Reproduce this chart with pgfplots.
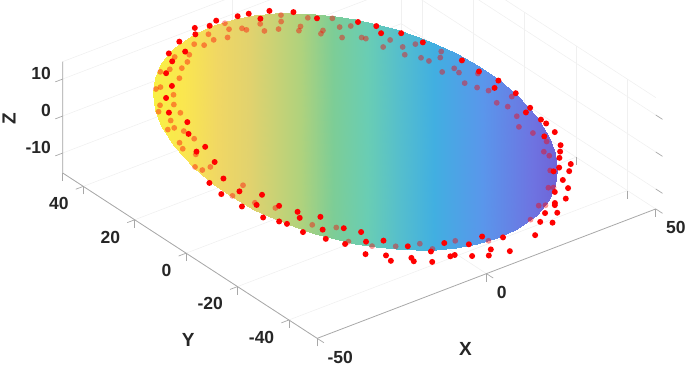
\documentclass[border=0pt]{standalone}
\usepackage{fontspec}
\setmainfont{Liberation Sans}
\usepackage{pgfplots}
\usepackage{pgfplotstable}
\pgfplotsset{compat=1.18}
\definecolor{axgray}{gray}{0.66}
\definecolor{gridgray}{gray}{0.94}
\definecolor{txt}{gray}{0.15}
\pgfplotstableread{
x y z m
-40 25.9 12.6 -1
-36.17 30.15 13.51 -.99
-31.6 33.82 14.17 -.96
-25.41 37.26 14.57 -.9
-17.42 39.92 14.52 -.8
-10.65 40.98 14.10 -.7
-4.56 41.14 13.48 -.6
1.04 40.66 12.71 -.5
6.28 39.7 11.83 -.4
11.18 38.3 10.84 -.3
15.81 36.54 9.77 -.2
20.18 34.43 8.62 -.1
24.3 32 7.4 0
28.18 29.25 6.10 .1
31.81 26.18 4.73 .2
35.18 22.76 3.28 .3
38.28 18.98 1.75 .4
41.04 14.76 0.11 .5
43.44 10.06 -1.64 .6
45.35 4.72 -3.54 .7
46.58 -1.52 -5.64 .8
46.59 -9.36 -8.11 .9
45.2 -15.9 -10.03 .96
43.03 -21.13 -11.43 .99
40 -25.9 -12.6 1

-40 25.9 12.6 -1
-43.03 21.13 11.43 -.99
-45.2 15.9 10.03 -.96
-46.59 9.36 8.11 -.9
-46.58 1.52 5.64 -.8
-45.35 -4.72 3.54 -.7
-43.44 -10.06 1.64 -.6
-41.04 -14.76 -0.11 -.5
-38.28 -18.98 -1.75 -.4
-35.18 -22.76 -3.28 -.3
-31.81 -26.18 -4.73 -.2
-28.18 -29.25 -6.10 -.1
-24.3 -32 -7.4 0
-20.18 -34.43 -8.62 .1
-15.81 -36.54 -9.77 .2
-11.18 -38.3 -10.84 .3
-6.28 -39.7 -11.83 .4
-1.04 -40.66 -12.71 .5
4.56 -41.14 -13.48 .6
10.65 -40.98 -14.10 .7
17.42 -39.92 -14.52 .8
25.41 -37.26 -14.57 .9
31.6 -33.82 -14.17 .96
36.17 -30.15 -13.51 .99
40 -25.9 -12.6 1
}\surfdata
\pgfplotstableread{
x y z
5.5 40.7 12.3
11.0 38.6 11.0
0.0 41.5 13.1
-3.2 41.6 13.5
1.7 39.2 12.2
-9.3 41.9 14.3
-12.0 40.9 14.3
-16.0 41.4 14.9
-17.2 39.6 14.4
15.3 35.1 9.4
-22.7 38.6 14.8
-23.4 35.4 13.8
-27.7 36.1 14.5
-28.6 33.6 13.8
-32.6 30.7 13.3
-34.0 26.6 12.2
-38.0 23.6 11.7
-40.5 19.2 10.6
-38.1 15.2 9.0
-40.4 11.7 8.2
-39.2 6.8 6.5
-42.3 6.1 6.6
-40.2 1.8 5.0
-41.7 -3.6 3.5
-46.0 -3.8 3.9
-45.6 -7.9 2.6
-40.7 -8.5 1.9
-36.0 -11.1 0.5
-39.5 -13.6 0.1
-43.3 -12.9 0.7
-34.3 -15.5 -1.1
-40.6 -17.6 -1.1
-37.7 -20.0 -2.1
-31.2 -18.6 -2.4
-32.0 -20.5 -2.9
-26.8 -21.7 -3.9
-36.3 -21.2 -2.7
-34.3 -24.8 -4.0
-29.1 -25.6 -4.8
-30.3 -28.4 -5.6
-23.7 -26.7 -5.8
-26.8 -31.3 -6.9
-20.4 -29.1 -6.9
-21.3 -32.2 -7.8
-24.1 -35.7 -8.6
-16.9 -33.2 -8.6
-19.5 -37.6 -9.7
-19.5 -39.5 -10.3
-12.3 -36.6 -10.2
-13.9 -40.1 -11.2
-14.1 -41.3 -11.5
-7.9 -39.8 -11.7
-9.8 -42.8 -12.5
-2.9 -38.4 -11.8
-4.3 -42.6 -13.0
-3.0 -42.6 -13.1
2.7 -40.6 -13.1
1.0 -44.1 -14.1
7.6 -39.3 -13.3
5.1 -45.2 -14.9
6.9 -43.6 -14.6
12.4 -41.1 -14.4
11.0 -45.6 -15.6
20.6 -42.8 -15.9
24.6 -39.5 -15.2
27.4 -40.6 -15.9
27.7 -37.3 -14.9
30.7 -38.1 -15.5
32.2 -35.2 -14.7
31.8 -35.7 -14.9
35.8 -34.7 -15.0
34.6 -32.0 -14.0
38.6 -31.9 -14.4
39.1 -29.2 -13.6
42.5 -27.2 -13.3
38.8 -26.0 -12.6
40.9 -25.4 -12.6
44.4 -25.3 -12.9
43.1 -22.6 -12.0
44.6 -20.9 -11.6
46.1 -19.1 -11.2
44.1 -15.4 -9.8
47.5 -15.0 -10.0
47.3 -11.9 -9.0
46.9 -10.4 -8.5
46.9 -6.2 -7.2
44.9 -7.2 -7.3
46.6 -1.0 -5.5
45.2 3.9 -3.8
42.7 2.1 -4.1
42.5 7.9 -2.2
40.8 12.3 -0.6
35.4 20.4 2.5
32.2 24.6 4.2
27.4 26.1 5.2
27.8 28.5 5.9
24.3 31.0 7.1
}\frontpts
\pgfplotstableread{
x y z
7.4 38.7 11.4
13.2 35.9 9.9
19.0 34.0 8.6
6.0 36.8 11.0
-7.8 40.5 13.7
0.5 37.7 11.9
9.6 34.0 9.7
-8.1 38.5 13.1
-4.8 37.8 12.5
-4.1 37.0 12.2
0.0 35.4 11.2
3.8 34.9 10.6
8.3 32.9 9.5
14.1 31.2 8.3
12.9 30.4 8.2
18.8 30.9 7.7
17.1 27.7 6.9
-14.1 38.6 13.8
-10.2 36.3 12.6
-14.0 36.7 13.1
-19.6 36.9 13.8
-17.5 35.8 13.3
-23.1 34.2 13.4
-27.1 34.6 14.0
-25.1 32.3 13.0
-30.9 31.5 13.4
-33.7 31.5 13.7
-27.8 30.9 12.9
-30.5 28.3 12.3
-37.0 27.1 12.7
-38.5 26.9 12.8
-35.5 24.0 11.5
-37.6 21.1 10.9
-41.0 22.0 11.5
-42.8 20.2 11.2
-37.8 18.3 10.0
-41.8 16.8 10.0
-42.5 14.5 9.3
-44.4 14.5 9.5
-40.9 12.9 8.6
-40.1 9.9 7.6
-44.5 9.8 8.1
-45.0 7.9 7.5
-43.1 5.3 6.5
-46.0 1.8 5.7
-42.3 0.7 4.9
-44.9 0.4 5.1
-38.5 -7.0 2.1
-43.3 -9.2 1.9
-39.4 -12.8 0.3
-35.7 -15.9 -1.0
-30.5 -23.4 -4.0
-25.3 -25.9 -5.4
-25.5 -30.9 -6.9
-20.8 -33.9 -8.4
-15.2 -35.7 -9.6
-8.9 -36.8 -10.6
-7.0 -39.2 -11.6
0.2 -38.6 -12.2
8.2 -41.0 -13.9
22.8 -38.1 -14.6
27.8 -34.7 -14.1
29.5 -35.1 -14.4
34.0 -30.3 -13.4
35.2 -30.7 -13.6
21.7 30.4 7.2
21.8 26.3 5.9
22.6 25.7 5.6
28.1 23.5 4.3
24.9 22.0 4.2
29.6 20.6 3.2
33.2 20.4 2.8
28.4 18.2 2.6
31.6 16.1 1.6
32.8 14.6 1.0
36.3 14.8 0.6
37.8 16.4 1.0
33.6 10.5 -0.4
37.3 10.7 -0.8
37.5 9.1 -1.3
41.8 7.4 -2.3
36.6 5.7 -2.3
38.6 3.5 -3.2
40.7 1.8 -4.0
44.9 -1.7 -5.5
40.0 -2.3 -5.2
41.8 -4.2 -6.0
41.9 -7.6 -7.1
40.1 -10.8 -7.9
42.1 -13.6 -9.0
43.5 -17.1 -10.2
40.7 -19.7 -10.8
41.1 -21.3 -11.3
38.1 -25.6 -12.3
}\backpts
\pgfplotsset{
 colormap={ell}{
  rgb255(-1)=(248,240,68)
  rgb255(-0.85)=(250,230,80)
  rgb255(-0.68)=(240,215,100)
  rgb255(-0.52)=(225,210,110)
  rgb255(-0.27)=(175,210,125)
  rgb255(-0.11)=(125,205,150)
  rgb255(0.06)=(105,205,180)
  rgb255(0.22)=(85,190,205)
  rgb255(0.39)=(65,175,225)
  rgb255(0.63)=(90,150,235)
  rgb255(0.88)=(110,115,225)
  rgb255(1)=(110,100,215)
 }
}
\begin{document}
\begin{tikzpicture}
\path[use as bounding box] (-355.4pt,-234.5pt) rectangle (329.6pt,131.5pt);
\begin{axis}[
 at={(0pt,0pt)},anchor=origin,
 x={(3.386pt,1.294pt)},y={(-2.57pt,1.67pt)},z={(0pt,3.7pt)},
 xmin=-50,xmax=50,ymin=-51,ymax=48,zmin=-15.4,zmax=14.7,
 xtick={-50,0,50},ytick={-40,-20,0,20,40},ztick={-10,0,10},
 grid=major,
 major grid style={gridgray,line width=0.6pt},
 axis line style={draw=none},
 tick align=outside,
 tick pos=left,
 major tick length=8pt,
 tick style={axgray,line width=0.7pt},
 clip=false,
 /pgf/number format/assume math mode=true,
 ticklabel style={font=\fontsize{17.5}{19}\selectfont\bfseries,text=txt,inner sep=0pt},
 xticklabel style={anchor=west,xshift=3.5pt,yshift=-14.5pt},
 yticklabel style={anchor=east,xshift=-7pt,yshift=-14.5pt},
 zticklabel style={anchor=east,xshift=-5pt,yshift=1.5pt},
 xlabel={X},ylabel={Y},zlabel={Z},
 every axis x label/.style={at={(axis cs:-41.8,-97.9,0)},anchor=center,font=\fontsize{19}{21}\selectfont\bfseries,text=txt},
 every axis y label/.style={at={(axis cs:-90.7,-54.4,0)},anchor=center,font=\fontsize{19}{21}\selectfont\bfseries,text=txt},
 every axis z label/.style={at={(axis cs:-60.6,54.9,0)},anchor=center,rotate=90,font=\fontsize{19}{21}\selectfont\bfseries,text=txt},
 point meta min=-1,point meta max=1,
]
\addplot3[gridgray,line width=0.6pt,forget plot] coordinates {(50,48,-15.4) (50,48,14.7)};
\addplot3[gridgray,line width=0.6pt,forget plot] coordinates {(-50,48,14.7) (50,48,14.7) (50,-51,14.7)};
\addplot3[axgray,line width=0.8pt,forget plot] coordinates {(-50,48,14.7) (-50,48,-15.4) (-50,-51,-15.4) (50,-51,-15.4)};
\addplot3[surf,shader=interp,point meta=\thisrow{m},mesh/rows=2,forget plot] table[x=x,y=y,z=z] {\surfdata};
\addplot3[red,only marks,mark=*,mark size=2.9pt,mark options={line width=0pt,draw opacity=0,fill=red,fill opacity=0.42}] table[x=x,y=y,z=z] {\backpts};
\addplot3[red,only marks,mark=*,mark size=3pt,mark options={line width=0pt,draw opacity=0,fill=red}] table[x=x,y=y,z=z] {\frontpts};
\end{axis}
\end{tikzpicture}
\end{document}
